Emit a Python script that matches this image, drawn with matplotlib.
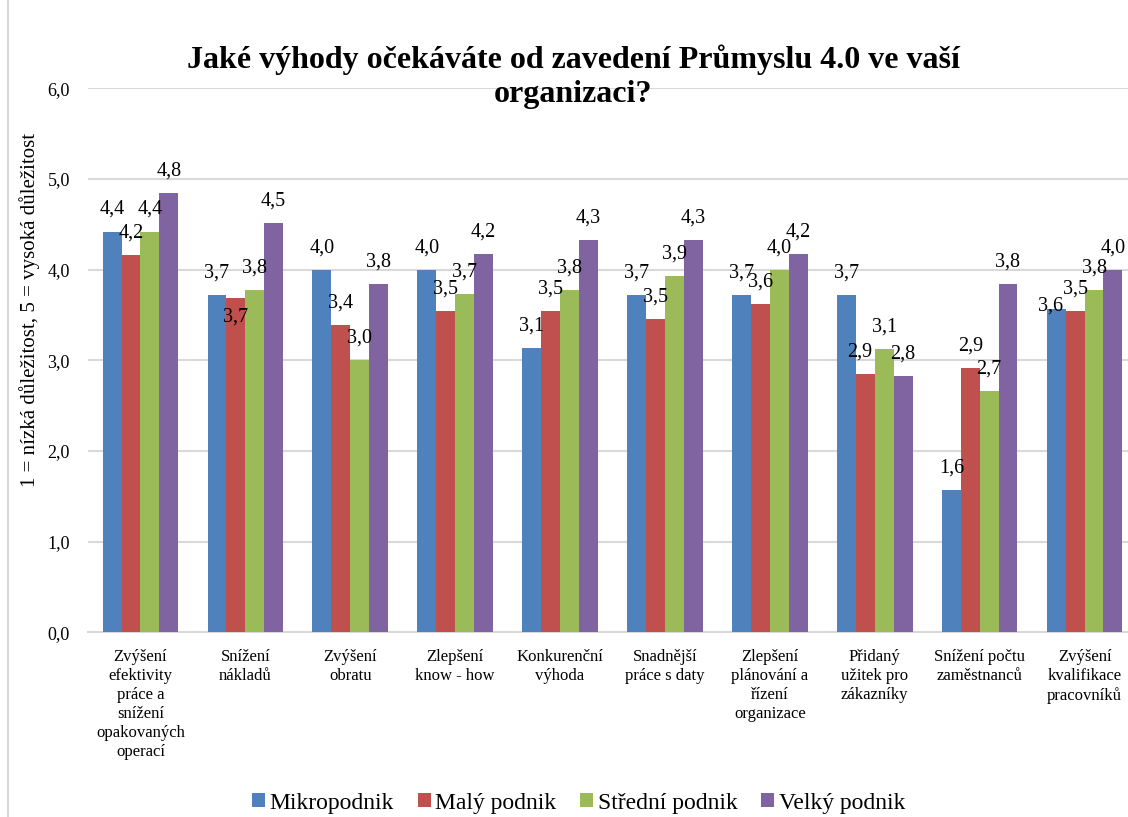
import matplotlib
matplotlib.use("Agg")
import matplotlib.pyplot as plt
import numpy as np
from matplotlib.patches import Rectangle

plt.rcParams['font.family'] = ['Liberation Serif', 'DejaVu Serif']

categories = ["Zvýšení\nefektivity\npráce a\nsnížení\nopakovaných\noperací",
              "Snížení\nnákladů", "Zvýšení\nobratu", "Zlepšení\nknow - how",
              "Konkurenční\nvýhoda", "Snadnější\npráce s daty",
              "Zlepšení\nplánování a\nřízení\norganizace",
              "Přidaný\nužitek pro\nzákazníky", "Snížení počtu\nzaměstnanců",
              "Zvýšení\nkvalifikace\npracovníků"]
series = ["Mikropodnik", "Malý podnik", "Střední podnik", "Velký podnik"]
mikro = [4.42, 3.72, 4.00, 4.00, 3.14, 3.72, 3.72, 3.72, 1.57, 3.57]
maly = [4.16, 3.69, 3.39, 3.54, 3.54, 3.46, 3.62, 2.85, 2.92, 3.54]
stredni = [4.42, 3.77, 3.00, 3.73, 3.77, 3.93, 4.00, 3.12, 2.66, 3.77]
velky = [4.84, 4.51, 3.84, 4.17, 4.33, 4.33, 4.17, 2.83, 3.84, 4.00]
yticks = [0, 1, 2, 3, 4, 5, 6]
colors = ["#4F81BD", "#C0504D", "#9BBB59", "#8064A2"]

fig = plt.figure(figsize=(11.28, 8.17), dpi=100)
fig.patches.append(Rectangle((0.007, -0.01), 1.0, 1.02, transform=fig.transFigure,
                             fill=False, edgecolor="#d0d0d0", linewidth=1.2))
ax = fig.add_axes([0.078, 0.226, 0.930, 0.666])

x = np.arange(len(categories))
w = 0.18
data = [mikro, maly, stredni, velky]
# manual label shifts (in points) for overlapping labels: (series, category) -> (dx, dy)
shifts = {(1, 1): (0, -30), (0, 9): (-4, -14), (1, 7): (-4, 0)}
for i, (vals, c, name) in enumerate(zip(data, colors, series)):
    pos = x + (i - 1.5) * w
    ax.bar(pos, vals, w, color=c, label=name, zorder=3)
    for j, (p, v) in enumerate(zip(pos, vals)):
        dx, dy = shifts.get((i, j), (0, 0))
        ax.annotate(f"{v:.1f}".replace(".", ","), (p, v), xytext=(dx, 9 + dy),
                    textcoords="offset points", ha="center", va="bottom",
                    fontsize=14.5, zorder=4)

ax.set_ylim(0, 6)
ax.set_xlim(-0.5, len(categories) - 0.5)
ax.set_yticks(yticks)
ax.set_yticklabels([f"{t:.1f}".replace(".", ",") for t in yticks], fontsize=13)
ax.set_xticks(x)
ax.set_xticklabels(categories, fontsize=12, linespacing=1.25, va="top")
ax.tick_params(axis='y', length=0, pad=13)
ax.tick_params(axis='x', length=0, pad=12)
ax.grid(axis='y', color="#d9d9d9", linewidth=1.5, zorder=0)
for s in ["top", "right", "left"]:
    ax.spines[s].set_visible(False)
ax.spines["bottom"].set_color("#d9d9d9")
ax.spines["bottom"].set_linewidth(1.5)

ax.set_ylabel("1 = nízká důležitost, 5 = vysoká důležitost", fontsize=15)
ax.yaxis.set_label_coords(-0.046, 0.592)

fig.text(0.508, 0.906, "Jaké výhody očekáváte od zavedení Průmyslu 4.0 ve vaší\norganizaci?",
         ha="center", va="center", fontsize=23, fontweight="bold", linespacing=1.2)

fig.legend(loc="center", bbox_to_anchor=(0.513, 0.017), ncol=4, frameon=False,
           fontsize=17, handlelength=0.55, handleheight=0.55, handletextpad=0.2,
           columnspacing=1.0)

fig.savefig("out.png", dpi=100)
